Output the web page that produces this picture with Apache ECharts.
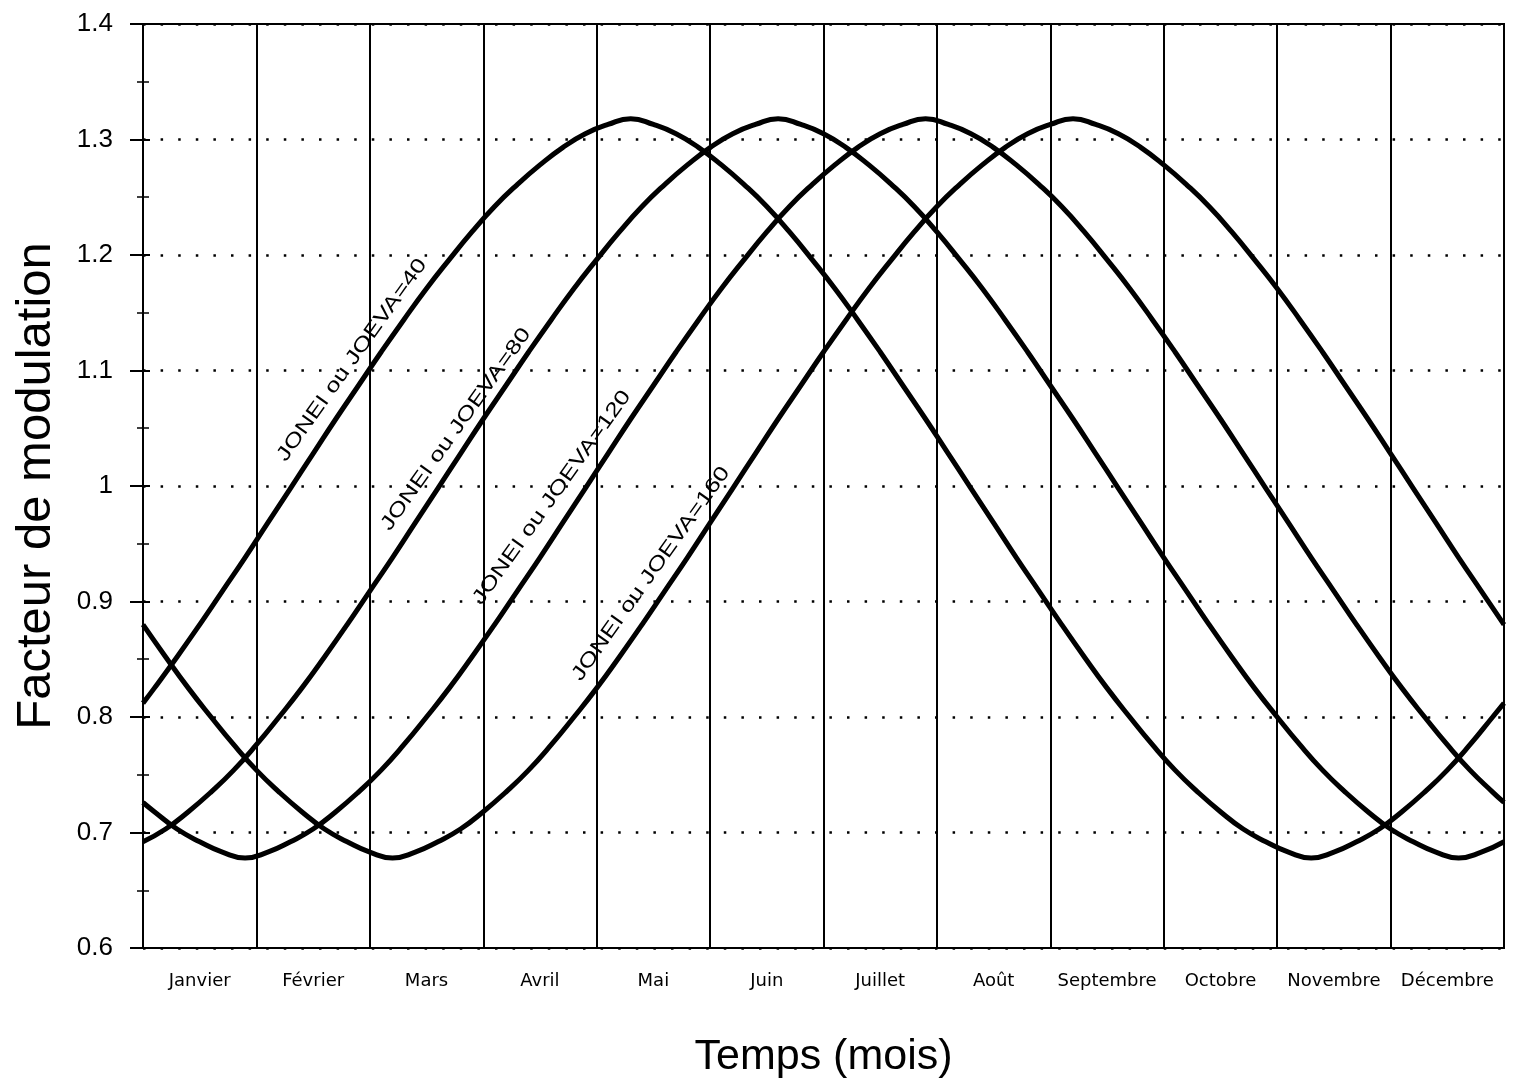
<!DOCTYPE html>
<html>
<head>
<meta charset="utf-8">
<title>Facteur de modulation</title>
<script src="https://cdn.jsdelivr.net/npm/echarts@6/dist/echarts.min.js"></script>
<style>
  html, body { margin: 0; padding: 0; background: #fff; }
  #main { width: 1519px; height: 1085px; }
</style>
</head>
<body>
<div id="main"></div>
<script>
// Month names shown under each column
const months = ['Janvier', 'Février', 'Mars', 'Avril', 'Mai', 'Juin',
  'Juillet', 'Août', 'Septembre', 'Octobre', 'Novembre', 'Décembre'];

// Sample positions along the year, in months from 1 January
const posEven = [
  0, 0.2, 0.4, 0.6, 0.8, 1, 1.2, 1.4, 1.6, 1.8,
  2, 2.2, 2.4, 2.6, 2.8, 3, 3.2, 3.4, 3.6, 3.8,
  4, 4.2, 4.4, 4.6, 4.8, 5, 5.2, 5.4, 5.6, 5.8,
  6, 6.2, 6.4, 6.6, 6.8, 7, 7.2, 7.4, 7.6, 7.8,
  8, 8.2, 8.4, 8.6, 8.8, 9, 9.2, 9.4, 9.6, 9.8,
  10, 10.2, 10.4, 10.6, 10.8, 11, 11.2, 11.4, 11.6, 11.8,
  12];
const posOdd = [
  0, 0.1, 0.3, 0.5, 0.7, 0.9, 1.1, 1.3, 1.5, 1.7,
  1.9, 2.1, 2.3, 2.5, 2.7, 2.9, 3.1, 3.3, 3.5, 3.7,
  3.9, 4.1, 4.3, 4.5, 4.7, 4.9, 5.1, 5.3, 5.5, 5.7,
  5.9, 6.1, 6.3, 6.5, 6.7, 6.9, 7.1, 7.3, 7.5, 7.7,
  7.9, 8.1, 8.3, 8.5, 8.7, 8.9, 9.1, 9.3, 9.5, 9.7,
  9.9, 10.1, 10.3, 10.5, 10.7, 10.9, 11.1, 11.3, 11.5, 11.7,
  11.9, 12];

// Modulation factor for each JONEI / JOEVA setting
const joeva40 = [ // at posOdd
  0.812, 0.825, 0.852, 0.880, 0.909, 0.938, 0.968, 0.998, 1.028, 1.058,
  1.087, 1.116, 1.144, 1.171, 1.196, 1.220, 1.242, 1.261, 1.278, 1.293,
  1.305, 1.313, 1.318, 1.313, 1.305, 1.293, 1.278, 1.261, 1.242, 1.220,
  1.196, 1.171, 1.144, 1.116, 1.087, 1.058, 1.028, 0.998, 0.968, 0.938,
  0.909, 0.880, 0.852, 0.825, 0.800, 0.776, 0.754, 0.735, 0.718, 0.703,
  0.692, 0.683, 0.678, 0.683, 0.692, 0.703, 0.718, 0.735, 0.754, 0.776,
  0.800, 0.812];
const joeva80 = [ // at posEven
  0.692, 0.703, 0.718, 0.735, 0.754, 0.776, 0.800, 0.825, 0.852, 0.880,
  0.909, 0.938, 0.968, 0.998, 1.028, 1.058, 1.087, 1.116, 1.144, 1.171,
  1.196, 1.220, 1.242, 1.261, 1.278, 1.293, 1.305, 1.313, 1.318, 1.313,
  1.305, 1.293, 1.278, 1.261, 1.242, 1.220, 1.196, 1.171, 1.144, 1.116,
  1.087, 1.058, 1.028, 0.998, 0.968, 0.938, 0.909, 0.880, 0.852, 0.825,
  0.800, 0.776, 0.754, 0.735, 0.718, 0.703, 0.692, 0.683, 0.678, 0.683,
  0.692];
const joeva120 = [ // at posOdd
  0.726, 0.718, 0.703, 0.692, 0.683, 0.678, 0.683, 0.692, 0.703, 0.718,
  0.735, 0.754, 0.776, 0.800, 0.825, 0.852, 0.880, 0.909, 0.938, 0.968,
  0.998, 1.028, 1.058, 1.087, 1.116, 1.144, 1.171, 1.196, 1.220, 1.242,
  1.261, 1.278, 1.293, 1.305, 1.313, 1.318, 1.313, 1.305, 1.293, 1.278,
  1.261, 1.242, 1.220, 1.196, 1.171, 1.144, 1.116, 1.087, 1.058, 1.028,
  0.998, 0.968, 0.938, 0.909, 0.880, 0.852, 0.825, 0.800, 0.776, 0.754,
  0.735, 0.726];
const joeva160 = [ // at posEven
  0.880, 0.852, 0.825, 0.800, 0.776, 0.754, 0.735, 0.718, 0.703, 0.692,
  0.683, 0.678, 0.683, 0.692, 0.703, 0.718, 0.735, 0.754, 0.776, 0.800,
  0.825, 0.852, 0.880, 0.909, 0.938, 0.968, 0.998, 1.028, 1.058, 1.087,
  1.116, 1.144, 1.171, 1.196, 1.220, 1.242, 1.261, 1.278, 1.293, 1.305,
  1.313, 1.318, 1.313, 1.305, 1.293, 1.278, 1.261, 1.242, 1.220, 1.196,
  1.171, 1.144, 1.116, 1.087, 1.058, 1.028, 0.998, 0.968, 0.938, 0.909,
  0.880];

const curveNames = ['JONEI ou JOEVA=40', 'JONEI ou JOEVA=80',
  'JONEI ou JOEVA=120', 'JONEI ou JOEVA=160'];
const curveValues = [joeva40, joeva80, joeva120, joeva160];
const curvePositions = [posOdd, posEven, posOdd, posEven];

const FONT = '"Liberation Sans", Arial, Helvetica, sans-serif';
const MONTH_FONT = '"DejaVu Sans", "Liberation Sans", sans-serif';
const INK = '#000';

const chart = echarts.init(document.getElementById('main'), null, { renderer: 'canvas' });

const yBase = {
  type: 'value',
  min: 0.6,
  max: 1.4,
  interval: 0.1,
  position: 'left'
};

chart.setOption({
  animation: false,
  backgroundColor: '#fff',
  grid: {
    left: 143, right: 15, top: 24, bottom: 137,
    show: true, borderColor: INK, borderWidth: 2, backgroundColor: 'transparent'
  },
  xAxis: [
    {
      type: 'category',
      data: months,
      boundaryGap: true,
      position: 'bottom',
      axisLine: { show: true, lineStyle: { color: INK, width: 2 } },
      axisTick: { show: false },
      axisLabel: { interval: 0, color: INK, fontFamily: MONTH_FONT, fontSize: 18, margin: 24 },
      splitLine: { show: true, interval: 0, lineStyle: { color: INK, width: 2, type: 'solid' } },
      name: 'Temps (mois)',
      nameLocation: 'middle',
      nameGap: 88,
      nameTextStyle: { color: INK, fontFamily: FONT, fontSize: 43 }
    },
    {
      type: 'value',
      min: 0,
      max: 12,
      show: false
    }
  ],
  yAxis: [
    Object.assign({}, yBase, {
      axisLine: { show: true, lineStyle: { color: INK, width: 2 } },
      axisTick: { show: true, inside: false, length: 13, lineStyle: { color: INK, width: 2 } },
      minorTick: { show: true, splitNumber: 2, length: 6, lineStyle: { color: INK, width: 1.5 } },
      axisLabel: { color: INK, fontFamily: FONT, fontSize: 26, margin: 30 },
      splitLine: { show: true, lineStyle: { color: INK, width: 2.5, type: [2.5, 15.1] } },
      name: 'Facteur de modulation',
      nameLocation: 'middle',
      nameGap: 82,
      nameTextStyle: { color: INK, fontFamily: FONT, fontSize: 49 }
    }),
    // inner half of the cross-shaped ticks
    Object.assign({}, yBase, {
      axisLine: { show: false },
      axisTick: { show: true, inside: true, length: 7, lineStyle: { color: INK, width: 2 } },
      minorTick: { show: true, splitNumber: 2, length: 6, lineStyle: { color: INK, width: 1.5 } },
      axisLabel: { show: false },
      splitLine: { show: false }
    })
  ],
  series: curveValues.map((vals, i) => ({
    name: curveNames[i],
    type: 'line',
    xAxisIndex: 1,
    yAxisIndex: 0,
    smooth: 0.5,
    showSymbol: false,
    symbol: 'none',
    lineStyle: { color: INK, width: 5 },
    data: curvePositions[i].map((m, k) => [m, vals[k]]),
    z: 5
  }))
});

// Curve captions written along the rising flank of each curve (month, value)
const captionAnchors = [[1.843, 1.109], [2.76, 1.049], [3.606, 0.990], [4.479, 0.924]];
const captionAngle = 54.5 * Math.PI / 180;

chart.setOption({
  graphic: captionAnchors.map((at, i) => {
    const p = chart.convertToPixel({ seriesIndex: i }, at);
    return {
      type: 'text',
      x: p[0],
      y: p[1],
      rotation: captionAngle,
      scaleX: 1.28,
      z: 10,
      style: {
        text: curveNames[i],
        fontFamily: FONT,
        fontSize: 20,
        fill: INK,
        align: 'center',
        verticalAlign: 'middle'
      }
    };
  })
});
</script>
</body>
</html>
